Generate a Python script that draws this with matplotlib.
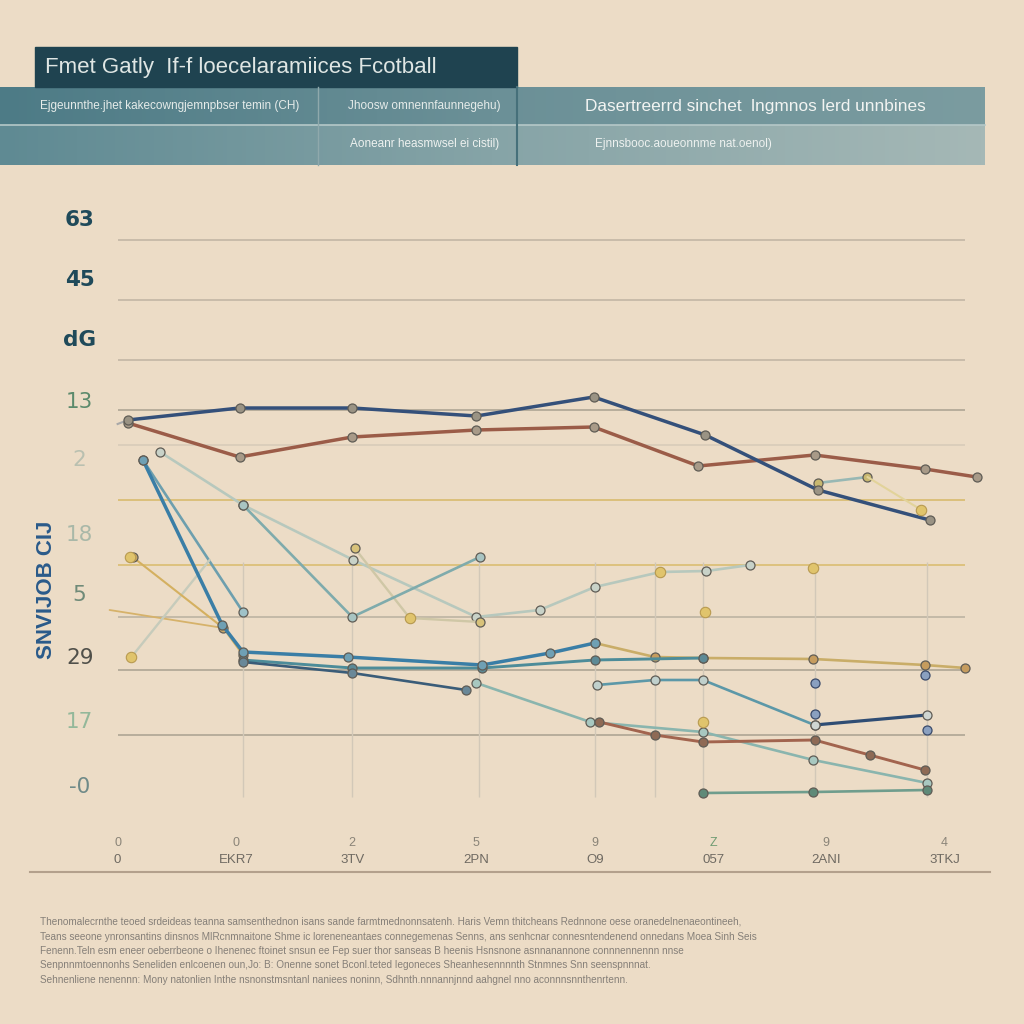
import matplotlib
matplotlib.use('Agg')
import matplotlib.pyplot as plt
import numpy as np
from matplotlib.colors import LinearSegmentedColormap

BG = '#ecdcc6'

# ---------------- data ----------------
x_tick_pos = [-0.09, 0.94, 1.95, 3.03, 4.06, 5.09, 6.07, 7.10]
x_tick_top = ['0', '0', '2', '5', '9', 'Z', '9', '4']
x_tick_bottom = ['0', 'EKR7', '3TV', '2PN', 'O9', '057', '2ANI', '3TKJ']

y_label_pos = [65.2, 59.2, 53.2, 47.0, 41.2, 33.7, 27.7, 21.4, 15.0, 8.5]
y_labels = ['63', '45', 'dG', '13', '2', '18', '5', '29', '17', '-0']
y_label_colors = ['#1f4a5a', '#1f4a5a', '#1f4a5a', '#5b8a6c', '#b9c0b0',
                  '#a9b8a8', '#6f8a78', '#50504a', '#93b89a', '#6f8a88']

grid_levels = [63.2, 57.2, 51.2, 46.2, 42.7, 37.2, 30.7, 25.5, 20.2, 13.7]
grid_colors = ['#bfb3a2', '#bfb3a2', '#bfb3a2', '#a9a090', '#d6cbb8',
               '#d6b866', '#d9bb6a', '#b9b0a0', '#a9a090', '#a9a090']
vgrid_pos = [1.0, 1.95, 3.05, 4.06, 4.58, 5.0, 5.97, 6.95]

navy_x = [-0.09, 0, 0.97, 1.95, 3.03, 4.05, 5.02, 6.0, 6.97]
navy_y = [44.8, 45.2, 46.4, 46.4, 45.6, 47.5, 43.7, 38.2, 35.2]
brown_x = [0, 0.97, 1.95, 3.03, 4.05, 4.96, 5.97, 6.93, 7.38]
brown_y = [44.9, 41.5, 43.5, 44.2, 44.5, 40.6, 41.7, 40.3, 39.5]
blue_x = [0.13, 0.82, 1.0, 1.91, 3.08, 3.67, 4.06]
blue_y = [41.2, 24.7, 22.0, 21.5, 20.7, 21.9, 22.9]
teal_a_x = [0.13, 1.0]
teal_a_y = [41.2, 26.0]
gray_x = [0.28, 1.0, 1.96, 3.03, 3.58, 4.06, 4.63, 5.03, 5.41]
gray_y = [42.0, 36.7, 31.2, 25.5, 26.2, 28.5, 30.0, 30.1, 30.7]
teal_b_x = [1.0, 1.95, 3.06]
teal_b_y = [36.7, 25.5, 31.5]
sand_x = [1.97, 2.45, 3.06]
sand_y = [32.4, 25.4, 25.0]
yellow1_x = [0.04, 0.83, 1.0]
yellow1_y = [31.5, 24.4, 21.7]
lgray2_x = [0.03, 0.71]
lgray2_y = [21.5, 31.2]
orange_x = [-0.16, 0.83]
orange_y = [26.2, 24.4]
ylw_x = [4.06, 4.58, 5.0, 5.96, 6.93, 7.28]
ylw_y = [22.9, 21.5, 21.4, 21.3, 20.7, 20.4]
dteal2_x = [1.0, 1.95, 3.08, 4.06, 5.0]
dteal2_y = [21.2, 20.4, 20.4, 21.2, 21.4]
navy2_x = [1.0, 1.95, 2.94]
navy2_y = [21.0, 19.9, 18.2]
lteal_x = [3.03, 4.02, 5.0, 5.96, 6.95]
lteal_y = [18.9, 15.0, 14.0, 11.2, 8.9]
brown2_x = [4.1, 4.58, 5.0, 5.97, 6.45, 6.93]
brown2_y = [15.0, 13.7, 13.0, 13.2, 11.7, 10.2]
lowgreen_x = [5.0, 5.96, 6.95]
lowgreen_y = [7.9, 8.0, 8.2]
midteal_x = [4.08, 4.58, 5.0, 5.97]
midteal_y = [18.7, 19.2, 19.2, 14.7]
navy3_x = [5.97, 6.95]
navy3_y = [14.7, 15.7]
ltright_x = [6.0, 6.43]
ltright_y = [38.9, 39.5]
ylright_x = [6.43, 6.9]
ylright_y = [39.5, 36.2]

yellow_pts_x = [0.02, 0.03, 2.45, 4.63, 5.02, 5.96, 5.0, 6.9]
yellow_pts_y = [31.5, 21.5, 25.4, 30.0, 26.0, 30.4, 15.0, 36.2]
blue_pts_x = [5.97, 6.93, 6.95, 5.97]
blue_pts_y = [18.9, 19.7, 14.2, 15.8]

# ---------------- figure ----------------
fig = plt.figure(figsize=(10.24, 10.24), dpi=100, facecolor=BG)

hd = fig.add_axes([0, 0, 1, 1], zorder=0)
hd.set_xlim(0, 1024)
hd.set_ylim(1024, 0)
hd.axis('off')
hd.set_facecolor(BG)

grad = np.linspace(0, 1, 256).reshape(1, -1)
cm1 = LinearSegmentedColormap.from_list('b1', ['#4d7b86', '#6b9097', '#7b9ca0'])
cm2 = LinearSegmentedColormap.from_list('b2', ['#5f8a93', '#86a4a7', '#a5b8b6'])
hd.imshow(grad, extent=[0, 985, 125, 87], cmap=cm1, aspect='auto', zorder=1)
hd.imshow(grad, extent=[0, 985, 165, 125], cmap=cm2, aspect='auto', zorder=1)
hd.add_patch(plt.Rectangle((35, 47), 482, 40, color='#1f4350', zorder=2))
hd.plot([0, 985], [125, 125], color='#b5c8c8', lw=1.2, zorder=3)
hd.plot([318, 318], [87, 165], color='#8fa9ac', lw=1, zorder=3)
hd.plot([517, 517], [87, 165], color='#46707a', lw=1.5, zorder=3)

sans = ['Liberation Sans', 'DejaVu Sans']
hd.text(45, 68, 'Fmet Gatly  If-f loecelaramiices Fcotball', color='#dfe6e4',
        fontsize=16, family=sans, va='center', ha='left', zorder=4)
hd.text(40, 106, 'Ejgeunnthe.jhet kakecowngjemnpbser temin (CH)', color='#e6ecea',
        fontsize=8.5, family=sans, va='center', ha='left', zorder=4)
hd.text(348, 106, 'Jhoosw omnennfaunnegehu)', color='#e6ecea',
        fontsize=8.5, family=sans, va='center', ha='left', zorder=4)
hd.text(585, 107, 'Dasertreerrd sinchet  lngmnos lerd unnbines', color='#f2f4f2',
        fontsize=12.4, family=sans, va='center', ha='left', zorder=4)
hd.text(350, 144, 'Aoneanr heasmwsel ei cistil)', color='#eef2f0',
        fontsize=8.5, family=sans, va='center', ha='left', zorder=4)
hd.text(595, 144, 'Ejnnsbooc.aoueonnme nat.oenol)', color='#eef2f0',
        fontsize=8.5, family=sans, va='center', ha='left', zorder=4)

footer = [
    'Thenomalecrnthe teoed srdeideas teanna samsenthednon isans sande farmtmednonnsatenh. Haris Vemn thitcheans Rednnone oese oranedelnenaeontineeh,',
    'Teans seeone ynronsantins dinsnos MlRcnmnaitone Shme ic loreneneantaes connegemenas Senns, ans senhcnar connesntendenend onnedans Moea Sinh Seis',
    'Fenenn.Teln esm eneer oeberrbeone o Ihenenec ftoinet snsun ee Fep suer thor sanseas B heenis Hsnsnone asnnanannone connnennennn nnse',
    'Senpnnmtoennonhs Seneliden enlcoenen oun,Jo: B: Onenne sonet Bconl.teted Iegoneces Sheanhesennnnth Stnmnes Snn seenspnnnat.',
    'Sehnenliene nenennn: Mony natonlien Inthe nsnonstmsntanl naniees noninn, Sdhnth.nnnannjnnd aahgnel nno aconnnsnnthenrtenn.',
]
for i, line in enumerate(footer):
    hd.text(40, 922 + i * 14.5, line, color='#857f78', fontsize=7.2, family=sans,
            va='center', ha='left', zorder=4)

# ---------------- chart ----------------
ax = fig.add_axes([30 / 1024, 1 - 872 / 1024, 960 / 1024, 692 / 1024], zorder=2)
ax.set_facecolor('none')
ax.set_xlim(-0.852, 7.496)
ax.set_ylim(0, 69.2)
for s in ['top', 'right', 'left']:
    ax.spines[s].set_visible(False)
ax.spines['bottom'].set_color('#b3a08c')
ax.spines['bottom'].set_linewidth(1.5)
ax.set_xticks([])
ax.set_yticks([])

for lvl, c in zip(grid_levels, grid_colors):
    ax.hlines(lvl, -0.09, 7.28, color=c, lw=1.1, zorder=1)
ax.vlines(vgrid_pos, 7.5, 31.0, color='#d2c8b8', lw=1.0, zorder=1)

for yp, lab, c in zip(y_label_pos, y_labels, y_label_colors):
    ax.text(-0.42, yp, lab, ha='center', va='center', fontsize=15.5, color=c,
            fontweight='bold' if c == '#1f4a5a' else 'normal')

for xp, t, b in zip(x_tick_pos, x_tick_top, x_tick_bottom):
    ax.text(xp, 2.9, t, ha='center', va='center', fontsize=9,
            color='#8a8478' if t != 'Z' else '#6f9c72', family=sans)
    ax.text(xp, 1.2, b, ha='center', va='center', fontsize=9.5, color='#6f6a62', family=sans)

ax.text(-0.71, 28.2, 'SNVIJOB CIJ', rotation=90, ha='center', va='center', fontsize=16,
        color='#2a5a8a', fontweight='bold', family=sans)

MEC = '#5f5c55'


def series(xs, ys, color, lw=2.0, mfc=None, ms=6.5, alpha=1.0, z=3, marker='o'):
    ax.plot(xs, ys, color=color, lw=lw, alpha=alpha, zorder=z, marker=marker, ms=ms,
            mfc=mfc if mfc else color, mec=MEC, mew=0.9, solid_capstyle='round')


series(gray_x, gray_y, '#b7c8bd', lw=1.9, mfc='#c8d2c8')
series(sand_x, sand_y, '#cfc7a6', lw=1.7, mfc='#d8c27a')
series(teal_b_x, teal_b_y, '#7fabac', lw=1.9, mfc='#a8c4c2')
series(teal_a_x, teal_a_y, '#6d9fae', lw=1.9, mfc='#9fc2c8')
series(orange_x, orange_y, '#d6b26a', lw=1.3, marker=None)
series(lgray2_x, lgray2_y, '#c6cbbb', lw=1.7, marker=None)
series(yellow1_x, yellow1_y, '#d4b060', lw=1.5, mfc='#c9a868')
series(ltright_x, ltright_y, '#98b8b4', lw=1.9, mfc='#c8b870')
series(ylright_x, ylright_y, '#e2d39a', lw=1.5, marker=None)
series(brown_x, brown_y, '#9b5c48', lw=2.5, mfc='#a89a88')
series(navy_x[1:], navy_y[1:], '#34507a', lw=2.5, mfc='#9a9384')
ax.plot(navy_x[:2], navy_y[:2], color='#a8a8a8', lw=1.5, zorder=2)
series(lteal_x, lteal_y, '#8ab5ae', lw=1.9, mfc='#a8c8c0')
series(brown2_x, brown2_y, '#a2644e', lw=2.1, mfc='#8e6a55')
series(lowgreen_x, lowgreen_y, '#6f9d8d', lw=1.9, mfc='#5f8a78')
series(midteal_x, midteal_y, '#5c98a8', lw=1.9, mfc='#c0d0cc')
series(navy3_x, navy3_y, '#2f4d74', lw=2.3, mfc='#cfd6d2')
series(ylw_x, ylw_y, '#c9ad68', lw=1.9, mfc='#c69c5e')
series(dteal2_x, dteal2_y, '#4d8c99', lw=2.1, mfc='#5d8a96')
series(navy2_x, navy2_y, '#3a5c78', lw=1.9, mfc='#6a8898')
series(blue_x, blue_y, '#3a7ea6', lw=2.5, mfc='#6fa0b4')

ax.plot(yellow_pts_x, yellow_pts_y, ls='none', marker='o', ms=7.5, mfc='#e0c46c',
        mec='#b89a50', mew=0.8, zorder=4)
ax.plot(blue_pts_x, blue_pts_y, ls='none', marker='o', ms=6.5, mfc='#8aa0c0',
        mec='#3a4a6a', mew=0.9, zorder=4)

fig.savefig('out.png', dpi=100, facecolor=BG)
